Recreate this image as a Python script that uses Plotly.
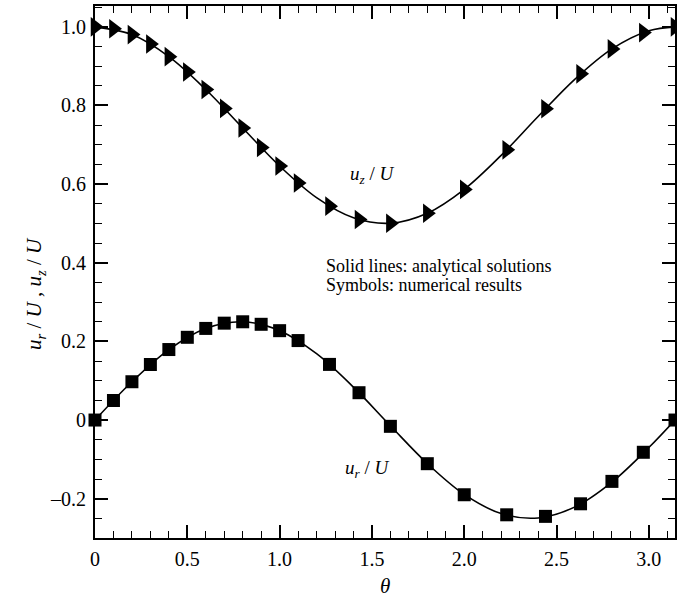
import plotly.graph_objects as go

# Numerical results (symbols)
theta_sym = [0.0, 0.1, 0.2, 0.3, 0.4, 0.5, 0.6, 0.7, 0.8, 0.9, 1.0, 1.1,
             1.27, 1.43, 1.6, 1.8, 2.0, 2.23, 2.44, 2.63, 2.8, 2.97, 3.1416]
ur_sym = [0.0, 0.0497, 0.0974, 0.1412, 0.1793, 0.2104, 0.2330, 0.2464, 0.2499,
          0.2435, 0.2273, 0.2021, 0.1415, 0.0695, -0.0160, -0.1110, -0.1900,
          -0.2410, -0.2450, -0.2130, -0.1560, -0.0820, 0.0]
uz_sym = [1.0, 0.9950, 0.9803, 0.9563, 0.9242, 0.8851, 0.8406, 0.7925, 0.7427,
          0.6932, 0.6460, 0.6029, 0.5439, 0.5099, 0.5004, 0.5258, 0.5866,
          0.6871, 0.7916, 0.8804, 0.9439, 0.9854, 1.0]

# Analytical solutions (solid lines)
theta_line = [0.0, 0.2, 0.4, 0.6, 0.8, 1.0, 1.2, 1.4, 1.6, 1.8, 2.0, 2.2,
              2.4, 2.6, 2.8, 3.0, 3.1416]
ur_line = [0.0, 0.0974, 0.1793, 0.2330, 0.2499, 0.2273, 0.1689, 0.0837,
           -0.0146, -0.1106, -0.1892, -0.2379, -0.2490, -0.2209, -0.1578,
           -0.0699, 0.0]
uz_line = [1.0, 0.9803, 0.9242, 0.8406, 0.7427, 0.6460, 0.5657, 0.5145,
           0.5004, 0.5258, 0.5866, 0.6732, 0.7719, 0.8671, 0.9439, 0.9900, 1.0]

x_tickvals = [0, 0.5, 1.0, 1.5, 2.0, 2.5, 3.0]
x_ticktext = ["0", "0.5", "1.0", "1.5", "2.0", "2.5", "3.0"]
y_tickvals = [-0.2, 0, 0.2, 0.4, 0.6, 0.8, 1.0]
y_ticktext = ["\u20130.2", "0", "0.2", "0.4", "0.6", "0.8", "1.0"]

FONT = "Liberation Serif"
X_RANGE = [0, 3.1416]
Y_RANGE = [-0.3, 1.053]

fig = go.Figure()
fig.add_trace(go.Scatter(x=theta_line, y=uz_line, mode="lines", line=dict(color="black", width=1.6, shape="spline"), showlegend=False))
fig.add_trace(go.Scatter(x=theta_line, y=ur_line, mode="lines", line=dict(color="black", width=1.6, shape="spline"), showlegend=False))
fig.add_trace(go.Scatter(x=theta_sym, y=uz_sym, mode="markers", marker=dict(symbol="triangle-right", size=17, color="black"), showlegend=False, cliponaxis=False))
fig.add_trace(go.Scatter(x=theta_sym, y=ur_sym, mode="markers", marker=dict(symbol="square", size=13, color="black"), showlegend=False, cliponaxis=False))

common = dict(
    showline=True, linecolor="black", linewidth=2,
    ticks="inside", ticklen=13, tickwidth=2, tickcolor="black",
    showgrid=False, zeroline=False, automargin=False,
    tickfont=dict(family=FONT, size=20, color="black"),
)
xminor = dict(ticks="inside", ticklen=7, tickwidth=1, dtick=0.1, tick0=0, tickcolor="black")
yminor = dict(ticks="inside", ticklen=7, tickwidth=1, dtick=0.05, tick0=0, tickcolor="black")

fig.update_layout(
    width=677, height=597,
    margin=dict(l=95, r=2, t=6, b=59),
    plot_bgcolor="white", paper_bgcolor="white",
    font=dict(family=FONT, color="black"),
    xaxis=dict(range=X_RANGE, tickvals=x_tickvals, ticktext=x_ticktext, minor=xminor,
               ticklabelstandoff=2, **common),
    yaxis=dict(range=Y_RANGE, tickvals=y_tickvals, ticktext=y_ticktext, minor=yminor,
               ticklabelstandoff=3, **common),
    xaxis2=dict(range=X_RANGE, tickvals=x_tickvals, minor=xminor, overlaying="x", side="top",
                showticklabels=False, **common),
    yaxis2=dict(range=Y_RANGE, tickvals=y_tickvals, minor=yminor, overlaying="y", side="right",
                showticklabels=False, **common),
)
# invisible trace to activate mirrored axes
fig.add_trace(go.Scatter(x=[X_RANGE[0]], y=[Y_RANGE[0]], xaxis="x2", yaxis="y2", mode="markers",
                         marker=dict(opacity=0), showlegend=False, hoverinfo="skip"))

# axis titles
fig.add_annotation(xref="paper", yref="paper", x=0.5, y=-0.09, yanchor="middle",
                   text="<i>\u03b8</i>", showarrow=False, font=dict(family=FONT, size=21, color="black"))
fig.add_annotation(xref="paper", yref="paper", x=-0.128, y=0.46, textangle=-90,
                   text="<i>u<sub>r</sub></i> / <i>U</i> , <i>u<sub>z</sub></i> / <i>U</i>",
                   showarrow=False, font=dict(family=FONT, size=21, color="black"))

fig.add_annotation(x=1.50, y=0.624, text="<i>u<sub>z</sub></i> / <i>U</i>", showarrow=False,
                   font=dict(family=FONT, size=19, color="black"))
fig.add_annotation(x=1.475, y=-0.124, text="<i>u<sub>r</sub></i> / <i>U</i>", showarrow=False,
                   font=dict(family=FONT, size=19, color="black"))
fig.add_annotation(x=1.238, y=0.393, xanchor="left", yanchor="middle",
                   text="Solid lines: analytical solutions",
                   showarrow=False, font=dict(family=FONT, size=18, color="black"))
fig.add_annotation(x=1.238, y=0.343, xanchor="left", yanchor="middle",
                   text="Symbols: numerical results",
                   showarrow=False, font=dict(family=FONT, size=18, color="black"))

fig.write_html(
    "out.html",
    config={"displayModeBar": False},
    post_script="document.body.style.margin='0';document.body.style.overflow='hidden';",
)
